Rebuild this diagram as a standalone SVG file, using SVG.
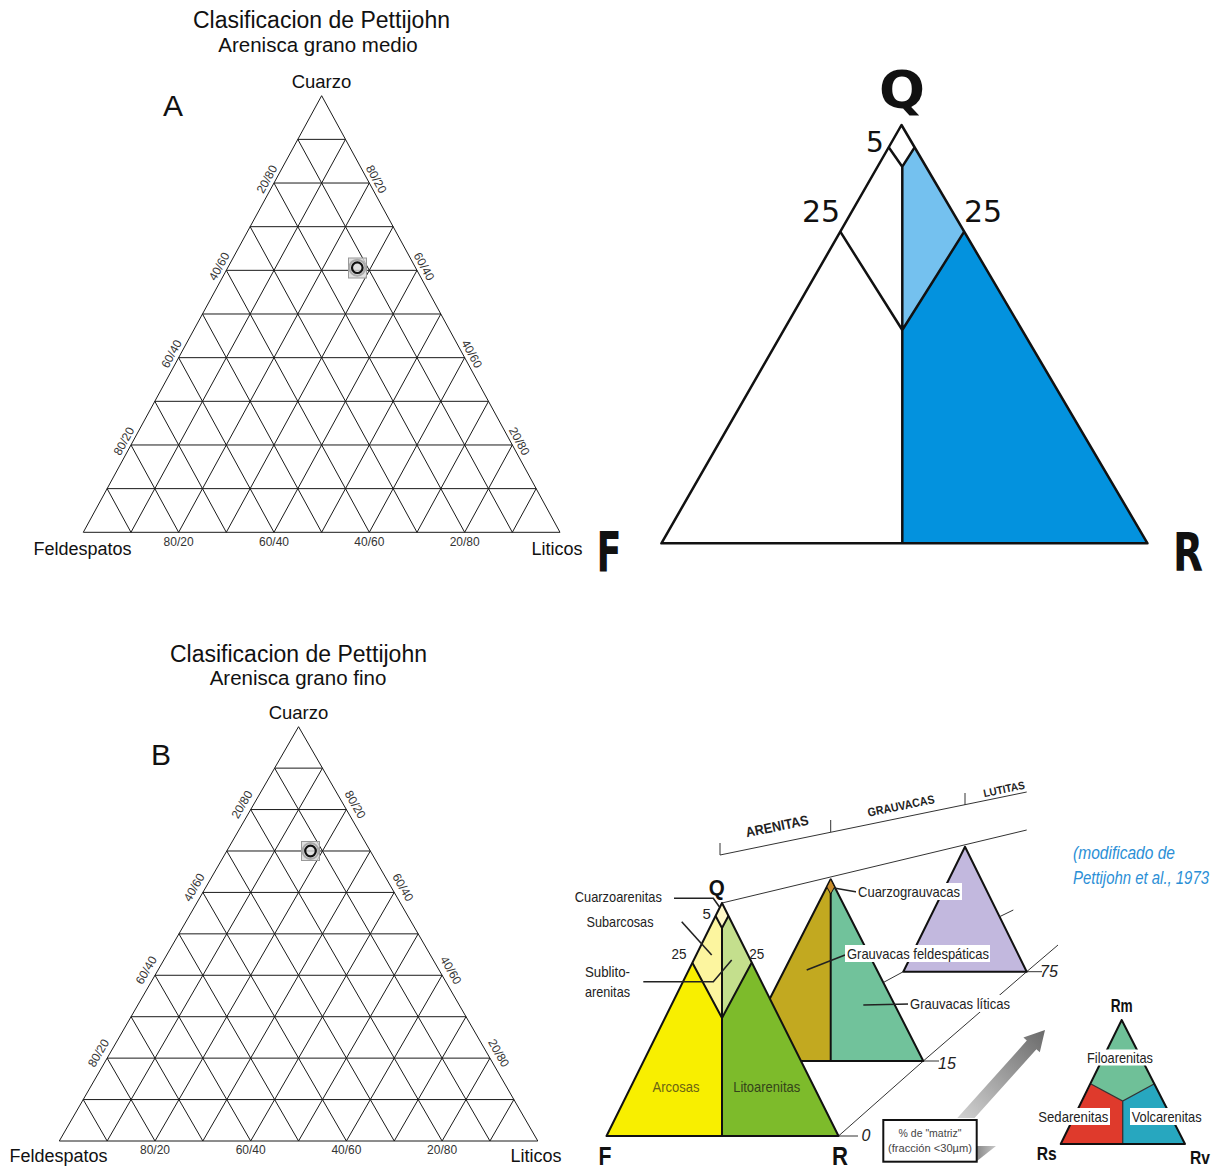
<svg xmlns="http://www.w3.org/2000/svg" width="1213" height="1171" viewBox="0 0 1213 1171">
<defs>
<style>
.t{font-family:"Liberation Sans",Arial,sans-serif;fill:#111}
.grid{fill:none;stroke:#1a1a1a;stroke-width:1;vector-effect:non-scaling-stroke}
.tick{font-family:"Liberation Sans",Arial,sans-serif;font-size:12px;fill:#333;text-anchor:middle;dominant-baseline:central}
.mid{text-anchor:middle}
.nar{font-family:"Liberation Sans",Arial,sans-serif;font-size:15px;fill:#222;text-anchor:middle}
.bold{font-family:"Liberation Sans",Arial,sans-serif;font-weight:bold;fill:#111;text-anchor:middle}
.bk{stroke:#111;stroke-width:2;stroke-linejoin:round}
.qb{stroke:#111;stroke-width:2.5;stroke-linejoin:round;fill:none}
.thin{stroke:#333;stroke-width:1;fill:none}
.lead{stroke:#222;stroke-width:1.6;fill:none}
.rnd{font-family:"DejaVu Sans",sans-serif;fill:#111;text-anchor:middle}
.it{font-family:"Liberation Sans",Arial,sans-serif;font-style:italic;font-size:16px;fill:#222;text-anchor:middle}
.hdr{font-family:"Liberation Sans",Arial,sans-serif;font-weight:bold;fill:#222;text-anchor:middle;dominant-baseline:central}
.cite{font-family:"Liberation Sans",Arial,sans-serif;font-style:italic;font-size:15px;fill:#2b8fd6}
</style>
<linearGradient id="arrowG" x1="0" y1="1" x2="1" y2="0">
<stop offset="0" stop-color="#d2d2d2"/>
<stop offset="1" stop-color="#6a6a6a"/>
</linearGradient>
<linearGradient id="wedgeG" x1="0" y1="0" x2="1" y2="0">
<stop offset="0" stop-color="#8a8a8a"/>
<stop offset="1" stop-color="#c8c8c8"/>
</linearGradient>
</defs>
<rect width="1213" height="1171" fill="#fff"/>

<!-- Ternary A -->
<g id="ternaryA">
<text class="t mid" x="321.5" y="28" font-size="23">Clasificacion de Pettijohn</text>
<text class="t mid" x="318" y="52" font-size="20.5">Arenisca grano medio</text>
<text class="t mid" x="321.5" y="87.5" font-size="18.5">Cuarzo</text>
<text class="t mid" x="173" y="116" font-size="30">A</text>
<path class="grid" transform="matrix(47.67 0 0 -43.66 83.3 532.3)" d="M0 0H10L5 10Z M0.5 1H9.5M1 2H9M1.5 3H8.5M2 4H8M2.5 5H7.5M3 6H7M3.5 7H6.5M4 8H6M4.5 9H5.5 M1 0L5.5 9M2 0L6 8M3 0L6.5 7M4 0L7 6M5 0L7.5 5M6 0L8 4M7 0L8.5 3M8 0L9 2M9 0L9.5 1 M1 0L0.5 1M2 0L1 2M3 0L1.5 3M4 0L2 4M5 0L2.5 5M6 0L3 6M7 0L3.5 7M8 0L4 8M9 0L4.5 9"/>
<text class="t mid" x="82.5" y="554.5" font-size="18">Feldespatos</text>
<text class="t mid" x="557" y="554.5" font-size="18">Liticos</text>
<text class="tick" x="178.6" y="541.5">80/20</text>
<text class="tick" x="274" y="541.5">60/40</text>
<text class="tick" x="369.3" y="541.5">40/60</text>
<text class="tick" x="464.7" y="541.5">20/80</text>
<text class="tick" transform="translate(124,441.2) rotate(-61.37)">80/20</text>
<text class="tick" transform="translate(171.6,353.9) rotate(-61.37)">60/40</text>
<text class="tick" transform="translate(219.3,266.5) rotate(-61.37)">40/60</text>
<text class="tick" transform="translate(267,179.2) rotate(-61.37)">20/80</text>
<text class="tick" transform="translate(376.3,179.2) rotate(61.37)">80/20</text>
<text class="tick" transform="translate(424,266.5) rotate(61.37)">60/40</text>
<text class="tick" transform="translate(471.7,353.9) rotate(61.37)">40/60</text>
<text class="tick" transform="translate(519.3,441.2) rotate(61.37)">20/80</text>
<g id="pointA">
<rect x="348.5" y="258" width="18" height="20" fill="#d9d9d9" fill-opacity="0.8" stroke="#999" stroke-width="1"/>
<circle cx="357.3" cy="267.7" r="8" fill="none" stroke="#aaa" stroke-width="2"/>
<circle cx="357.3" cy="267.7" r="5.3" fill="none" stroke="#111" stroke-width="2.2"/>
</g>
</g>

<!-- Ternary B -->
<g id="ternaryB">
<text class="t mid" x="298.5" y="662" font-size="23">Clasificacion de Pettijohn</text>
<text class="t mid" x="298" y="685" font-size="20.5">Arenisca grano fino</text>
<text class="t mid" x="298.5" y="718.5" font-size="18.5">Cuarzo</text>
<text class="t mid" x="161" y="765" font-size="30">B</text>
<path class="grid" transform="matrix(47.85 0 0 -41.43 59.3 1141)" d="M0 0H10L5 10Z M0.5 1H9.5M1 2H9M1.5 3H8.5M2 4H8M2.5 5H7.5M3 6H7M3.5 7H6.5M4 8H6M4.5 9H5.5 M1 0L5.5 9M2 0L6 8M3 0L6.5 7M4 0L7 6M5 0L7.5 5M6 0L8 4M7 0L8.5 3M8 0L9 2M9 0L9.5 1 M1 0L0.5 1M2 0L1 2M3 0L1.5 3M4 0L2 4M5 0L2.5 5M6 0L3 6M7 0L3.5 7M8 0L4 8M9 0L4.5 9"/>
<text class="t mid" x="58.5" y="1162" font-size="18">Feldespatos</text>
<text class="t mid" x="536" y="1162" font-size="18">Liticos</text>
<text class="tick" x="155" y="1150">80/20</text>
<text class="tick" x="250.7" y="1150">60/40</text>
<text class="tick" x="346.4" y="1150">40/60</text>
<text class="tick" x="442.1" y="1150">20/80</text>
<text class="tick" transform="translate(98.5,1053.1) rotate(-60)">80/20</text>
<text class="tick" transform="translate(146.3,970.3) rotate(-60)">60/40</text>
<text class="tick" transform="translate(194.2,887.4) rotate(-60)">40/60</text>
<text class="tick" transform="translate(242,804.6) rotate(-60)">20/80</text>
<text class="tick" transform="translate(355.1,804.6) rotate(60)">80/20</text>
<text class="tick" transform="translate(402.9,887.4) rotate(60)">60/40</text>
<text class="tick" transform="translate(450.8,970.3) rotate(60)">40/60</text>
<text class="tick" transform="translate(498.6,1053.1) rotate(60)">20/80</text>
<g id="pointB">
<rect x="301.5" y="841.5" width="18" height="19" fill="#d9d9d9" fill-opacity="0.8" stroke="#999" stroke-width="1"/>
<circle cx="310.5" cy="851" r="8" fill="none" stroke="#aaa" stroke-width="2"/>
<circle cx="310.5" cy="851" r="5.3" fill="none" stroke="#111" stroke-width="2.2"/>
</g>
</g>

<!-- QFR diagram -->
<g id="qfr">
<polygon points="901.5,125 661.4,543.3 1147.5,543.3" fill="#fff"/>
<polygon points="914.6,147.3 964.2,231.7 902.3,330 902.3,166.7" fill="#74c1ef"/>
<polygon points="964.2,231.7 1147.5,543.3 902.3,543.3 902.3,330" fill="#0392de"/>
<polygon class="qb" points="901.5,125 661.4,543.3 1147.5,543.3"/>
<path class="qb" d="M902.3 166.7V543.3 M840.3 231.7L902.3 330L964.2 231.7 M888.7 147.3L902.3 166.7L914.6 147.3"/>
<text class="rnd" x="902" y="108" font-size="52" font-weight="bold" textLength="46" lengthAdjust="spacingAndGlyphs">Q</text>
<text class="rnd" x="875" y="152" font-size="28">5</text>
<text class="rnd" x="821" y="222" font-size="30">25</text>
<text class="rnd" x="983" y="222" font-size="30">25</text>
<text class="rnd" x="609" y="571" font-size="56" font-weight="bold" textLength="25" lengthAdjust="spacingAndGlyphs">F</text>
<text class="rnd" x="1188" y="571" font-size="54" font-weight="bold" textLength="30" lengthAdjust="spacingAndGlyphs">R</text>
</g>

<!-- Pettijohn 3D classification -->
<g id="pettijohn">
<g id="connectors">
<line class="thin" x1="720" y1="855" x2="1026.7" y2="792"/>
<path class="thin" d="M720 843V855 M830.7 820V832 M965 793V805"/>
<line class="thin" x1="722" y1="903" x2="1026.7" y2="830"/>
<line class="thin" x1="738" y1="1061" x2="903.3" y2="971.7"/>
<polyline class="thin" points="838.5,1136 923.3,1061 1026.7,971.7 1058,945"/>
<path class="thin" d="M838.5 1136H858 M923.3 1061H939 M1026.7 971.7H1042"/>
</g>
<text class="hdr" font-size="14" textLength="64" lengthAdjust="spacingAndGlyphs" transform="translate(777,826) rotate(-11.6)">ARENITAS</text>
<text class="hdr" font-size="12" textLength="68" lengthAdjust="spacingAndGlyphs" transform="translate(901,806) rotate(-11.6)">GRAUVACAS</text>
<text class="hdr" font-size="11" textLength="42" lengthAdjust="spacingAndGlyphs" transform="translate(1004,789) rotate(-11.6)">LUTITAS</text>
<text class="it" x="866" y="1141">0</text>
<text class="it" x="947" y="1069">15</text>
<text class="it" x="1049" y="977">75</text>

<g id="lutitas">
<polygon class="bk" points="965,846.7 903.3,971.7 1026.7,971.7" fill="#c2b8de"/>
<line class="thin" x1="999.6" y1="916.7" x2="1013.3" y2="910"/>
</g>

<g id="grauvacas">
<polygon points="830.7,879.3 738,1061 830.7,1061" fill="#c2a920"/>
<polygon points="830.7,879.3 923.3,1061 830.7,1061" fill="#71c29b"/>
<polygon class="bk" fill="none" points="830.7,879.3 738,1061 923.3,1061"/>
<line class="bk" x1="830.7" y1="887" x2="830.7" y2="1061"/>
<polygon points="830.7,879.3 826.8,887 830.7,894 834.6,887" fill="#c98e2c" stroke="#111" stroke-width="1"/>
</g>

<g id="arenitas">
<polygon points="722,903 715.6,916 722,928 728.4,916" fill="#fff9c9"/>
<polygon points="715.6,916 722,928 722,1018 692.5,963" fill="#fcf59f"/>
<polygon points="728.4,916 722,928 722,1018 751.5,963" fill="#c4df8d"/>
<polygon points="692.5,963 722,1018 722,1136 606.5,1136" fill="#f8ef00"/>
<polygon points="751.5,963 722,1018 722,1136 838.5,1136" fill="#7dbb2b"/>
<polygon class="bk" fill="none" points="722,903 606.5,1136 838.5,1136"/>
<path class="bk" fill="none" d="M715.6 916L722 928L728.4 916 M692.5 963L722 1018L751.5 963 M722 928V1136"/>
</g>

<text class="bold" x="716.7" y="894.5" font-size="22" textLength="16" lengthAdjust="spacingAndGlyphs">Q</text>
<text class="bold" x="605" y="1165" font-size="25" textLength="13" lengthAdjust="spacingAndGlyphs">F</text>
<text class="bold" x="840" y="1165" font-size="25" textLength="16" lengthAdjust="spacingAndGlyphs">R</text>
<text class="nar" x="706.7" y="918.5" font-size="14">5</text>
<text class="nar" x="679" y="958.5" font-size="15" textLength="15" lengthAdjust="spacingAndGlyphs">25</text>
<text class="nar" x="756.7" y="958.5" font-size="15" textLength="15" lengthAdjust="spacingAndGlyphs">25</text>
<text class="nar" x="618.3" y="902" textLength="87" lengthAdjust="spacingAndGlyphs">Cuarzoarenitas</text>
<text class="nar" x="620" y="927" textLength="67" lengthAdjust="spacingAndGlyphs">Subarcosas</text>
<text class="nar" x="607.5" y="977" textLength="45" lengthAdjust="spacingAndGlyphs">Sublito-</text>
<text class="nar" x="607.5" y="997" textLength="45" lengthAdjust="spacingAndGlyphs">arenitas</text>
<text class="nar" x="676" y="1092" textLength="47" lengthAdjust="spacingAndGlyphs" style="fill:#6b6414">Arcosas</text>
<text class="nar" x="766.7" y="1091.5" textLength="67" lengthAdjust="spacingAndGlyphs" style="fill:#34441a">Litoarenitas</text>
<polyline class="lead" points="674,898.3 713.3,898.3 719.3,906.7"/>
<line class="lead" x1="681.7" y1="921.7" x2="711.7" y2="955"/>
<polyline class="lead" points="643.3,981.7 713.3,981.7 731.7,960"/>

<line class="lead" x1="834" y1="888" x2="857" y2="892"/>
<rect x="856" y="883" width="106" height="17" fill="#fff"/>
<text class="nar" x="909" y="897" textLength="102" lengthAdjust="spacingAndGlyphs">Cuarzograuvacas</text>
<line class="lead" x1="806.7" y1="970" x2="845" y2="955"/>
<rect x="845" y="945" width="145" height="17" fill="#fff"/>
<text class="nar" x="918" y="958.7" textLength="142" lengthAdjust="spacingAndGlyphs">Grauvacas feldespáticas</text>
<line class="lead" x1="863.3" y1="1005" x2="909" y2="1004"/>
<rect x="908" y="995" width="104" height="17" fill="#fff"/>
<text class="nar" x="960" y="1008.7" textLength="100" lengthAdjust="spacingAndGlyphs">Grauvacas líticas</text>

<polygon points="957.3,1118 1026.8,1040.6 1023.4,1037.6 1045,1030 1039.8,1052.2 1036.4,1049.2 974.6,1118" fill="url(#arrowG)"/>
<polygon points="977,1146 996,1146 977,1161" fill="url(#wedgeG)"/>
<g id="matrixbox">
<rect x="883.3" y="1120" width="93.4" height="41.7" fill="#fff" stroke="#111" stroke-width="2"/>
<text class="t mid" x="930" y="1136.5" font-size="10.5" style="fill:#444">% de "matriz"</text>
<text class="t mid" x="930" y="1152" font-size="10.5" style="fill:#444" textLength="84" lengthAdjust="spacingAndGlyphs">(fracción &lt;30µm)</text>
</g>

<g id="rocktriangle">
<polygon points="1121.7,1020 1091,1084 1122.7,1101 1154,1084" fill="#6fc098"/>
<polygon points="1091,1084 1122.7,1101 1122.7,1144 1060.7,1144" fill="#df3a2c"/>
<polygon points="1154,1084 1122.7,1101 1122.7,1144 1185,1144" fill="#27a7bf"/>
<path d="M1091 1084L1122.7 1101L1154 1084 M1122.7 1101V1144" stroke="#333" stroke-width="1.3" fill="none"/>
<polygon class="bk" fill="none" points="1121.7,1020 1060.7,1144 1185,1144"/>
<text class="bold" x="1121.7" y="1011.5" font-size="18" textLength="22" lengthAdjust="spacingAndGlyphs">Rm</text>
<rect x="1085" y="1049.5" width="69" height="16" fill="#fff"/>
<text class="nar" x="1120" y="1063" textLength="66" lengthAdjust="spacingAndGlyphs">Filoarenitas</text>
<rect x="1037" y="1108" width="73" height="17" fill="#fff"/>
<text class="nar" x="1073.3" y="1122" textLength="70" lengthAdjust="spacingAndGlyphs">Sedarenitas</text>
<rect x="1130" y="1108" width="73" height="17" fill="#fff"/>
<text class="nar" x="1166.7" y="1122" textLength="70" lengthAdjust="spacingAndGlyphs">Volcarenitas</text>
<text class="bold" x="1046.7" y="1160" font-size="18" textLength="20" lengthAdjust="spacingAndGlyphs">Rs</text>
<text class="bold" x="1200" y="1164" font-size="18" textLength="20" lengthAdjust="spacingAndGlyphs">Rv</text>
</g>

<text class="cite" transform="translate(1073,859) scale(1,1.25)" textLength="102" lengthAdjust="spacingAndGlyphs">(modificado de</text>
<text class="cite" transform="translate(1073,884) scale(1,1.25)" font-size="14.5" textLength="136" lengthAdjust="spacingAndGlyphs">Pettijohn et al., 1973</text>
</g>
</svg>
